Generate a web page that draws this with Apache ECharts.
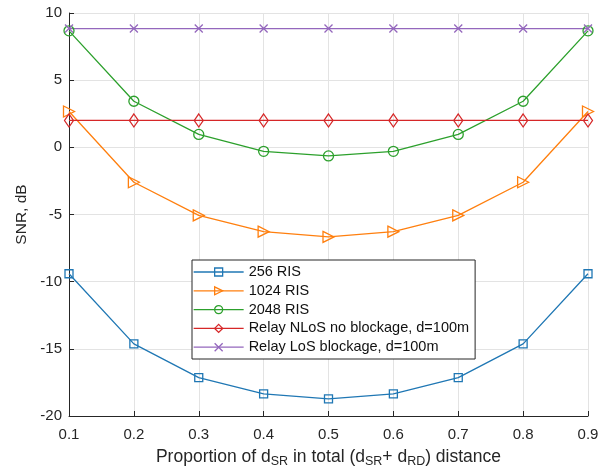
<!DOCTYPE html>
<html>
<head>
<meta charset="utf-8">
<script src="https://cdn.jsdelivr.net/npm/echarts@6/dist/echarts.min.js"></script>
<style>
html,body{margin:0;padding:0;background:#fff;}
#c{width:611px;height:473px;}
</style>
</head>
<body>
<div id="c"></div>
<script>
var categories = ['0.1','0.2','0.3','0.4','0.5','0.6','0.7','0.8','0.9'];
var ris256  = [-9.41, -14.63, -17.14, -18.35, -18.72, -18.35, -17.14, -14.63, -9.41];
var ris1024 = [2.67, -2.6, -5.07, -6.28, -6.67, -6.28, -5.07, -2.6, 2.67];
var ris2048 = [8.67, 3.43, 0.96, -0.3, -0.64, -0.3, 0.96, 3.43, 8.67];
var relayNLoS = [2.0, 2.0, 2.0, 2.0, 2.0, 2.0, 2.0, 2.0, 2.0];
var relayLoS  = [8.84, 8.84, 8.84, 8.84, 8.84, 8.84, 8.84, 8.84, 8.84];
var seriesNames = ['256 RIS','1024 RIS','2048 RIS','Relay NLoS no blockage, d=100m','Relay LoS blockage, d=100m'];
var yTicks = {min: -20, max: 10, interval: 5};

var colors = ['#1f77b4','#ff7f0e','#2ca02c','#d62728','#9467bd'];
var symbols = [
  'rect',
  'path://M0,0L10,5L0,10Z',
  'circle',
  'path://M5,0L10,6.5L5,13L0,6.5Z',
  'path://M0,0L10,10M10,0L0,10'
];
var sizes = [[8,8],[11,11],[10,10],[9,13],[8,8]];
var data = [ris256, ris1024, ris2048, relayNLoS, relayLoS];

var series = data.map(function(d, i){
  return {
    name: seriesNames[i],
    type: 'line',
    data: d,
    symbol: symbols[i],
    symbolSize: sizes[i],
    showAllSymbol: true,
    lineStyle: {color: colors[i], width: 1.3},
    itemStyle: {color: 'rgba(0,0,0,0)', borderColor: colors[i], borderWidth: 1.3},
    emphasis: {disabled: true},
    animation: false
  };
});

var chart = echarts.init(document.getElementById('c'), null, {renderer: 'canvas'});
chart.setOption({
  backgroundColor: '#fff',
  animation: false,
  textStyle: {fontFamily: 'Liberation Sans, Arial, sans-serif'},
  grid: {left: 69, right: 23, top: 13, bottom: 54, containLabel: false},
  legend: {
    orient: 'vertical',
    left: 192, top: 260,
    data: seriesNames,
    backgroundColor: '#fff',
    borderColor: '#262626',
    borderWidth: 1,
    borderRadius: 0,
    padding: [4.5, 6, 4.3, 1],
    itemWidth: 50,
    itemHeight: 10,
    itemGap: 3.8,
    lineStyle: {width: 1.3},
    itemStyle: {borderWidth: 1.3},
    textStyle: {fontSize: 14.5, color: '#111', fontFamily: 'Liberation Sans, Arial, sans-serif'}
  },
  xAxis: {
    type: 'category',
    data: categories,
    boundaryGap: false,
    axisLine: {show: true, onZero: false, lineStyle: {color: '#262626', width: 1}},
    axisTick: {show: true, inside: true, length: 5, alignWithLabel: true, lineStyle: {color: '#262626'}},
    axisLabel: {fontSize: 15, color: '#262626', margin: 11},
    splitLine: {show: true, lineStyle: {color: '#e3e3e3', width: 1}},
    nameLocation: 'middle',
    nameGap: 32,
    name: '{n|Proportion of d}{s|SR}{n| in total (d}{s|SR}{n|+ d}{s|RD}{n|) distance}',
    nameTextStyle: {
      rich: {
        n: {fontSize: 17.5, lineHeight: 20, verticalAlign: 'top', color: '#262626'},
        s: {fontSize: 12.5, lineHeight: 9, verticalAlign: 'bottom', color: '#262626'}
      }
    }
  },
  yAxis: {
    type: 'value',
    min: yTicks.min, max: yTicks.max, interval: yTicks.interval,
    axisLine: {show: true, lineStyle: {color: '#262626', width: 1}},
    axisTick: {show: true, inside: true, length: 5, lineStyle: {color: '#262626'}},
    axisLabel: {fontSize: 15, color: '#262626', margin: 7},
    splitLine: {show: true, lineStyle: {color: '#e3e3e3', width: 1}},
    name: 'SNR, dB',
    nameLocation: 'middle',
    nameGap: 37,
    nameTextStyle: {fontSize: 15.5, color: '#262626'}
  },
  series: series
});
</script>
</body>
</html>
